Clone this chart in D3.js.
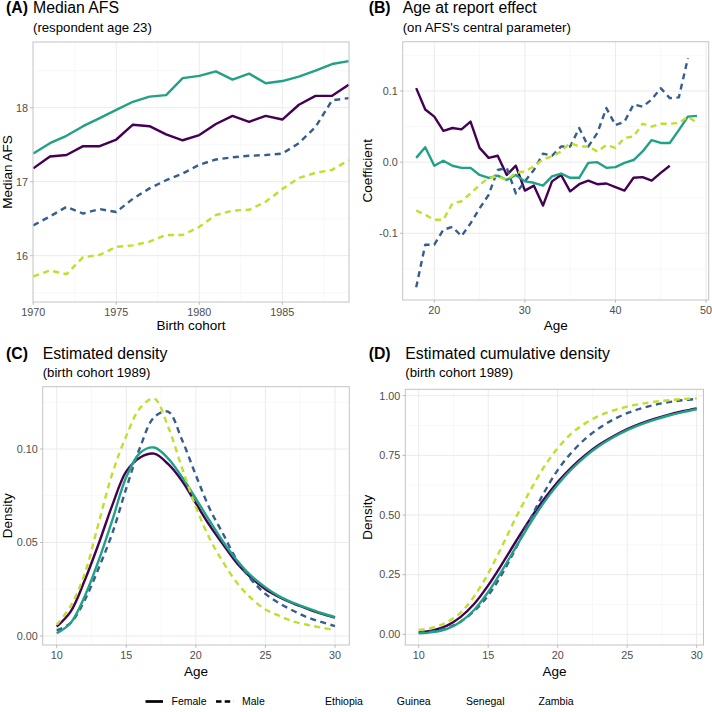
<!DOCTYPE html>
<html><head><meta charset="utf-8">
<script src="https://cdn.jsdelivr.net/npm/d3@7"></script>
<style>
body{margin:0;background:#fff}
svg{display:block;font-family:"Liberation Sans",Arial,Helvetica,sans-serif}
</style>
</head><body>
<svg id="chart" width="712" height="712"></svg>
<script>
// ---------------- DATA ----------------
const countries = ["Ethiopia", "Guinea", "Senegal", "Zambia"];
const countrySex = ["Female", "Male", "Female", "Male"];
const countryColors = ["#440154", "#365D8D", "#21A185", "#BFDF2A"];
const sexes = ["Female", "Male"];

// (A) Median AFS by birth cohort
const cohort = [1970,1971,1972,1973,1974,1975,1976,1977,1978,1979,1980,1981,1982,1983,1984,1985,1986,1987,1988,1989];
const medianEthiopia = [17.18,17.34,17.36,17.48,17.48,17.57,17.77,17.75,17.64,17.56,17.63,17.78,17.89,17.81,17.89,17.84,18.04,18.16,18.16,18.31];
const medianGuinea   = [16.41,16.53,16.66,16.57,16.63,16.59,16.77,16.91,17.02,17.11,17.23,17.30,17.33,17.35,17.36,17.38,17.52,17.74,18.10,18.13];
const medianSenegal  = [17.38,17.52,17.62,17.75,17.86,17.97,18.08,18.15,18.17,18.40,18.43,18.49,18.38,18.46,18.33,18.36,18.42,18.50,18.59,18.63];
const medianZambia   = [15.72,15.80,15.75,15.98,16.01,16.12,16.14,16.19,16.28,16.28,16.39,16.55,16.61,16.62,16.73,16.90,17.05,17.12,17.16,17.29];

// (B) Age at report effect
const reportAge = [18,19,20,21,22,23,24,25,26,27,28,29,30,31,32,33,34,35,36,37,38,39,40,41,42,43,44,45,46,47,48,49];
const effectEthiopia = [0.104,0.074,0.064,0.044,0.048,0.046,0.057,0.020,0.006,0.009,-0.018,-0.005,-0.040,-0.033,-0.061,-0.027,-0.018,-0.041,-0.031,-0.026,-0.031,-0.030,-0.035,-0.040,-0.022,-0.021,-0.026,-0.015,-0.005];
const effectGuinea   = [-0.176,-0.116,-0.116,-0.095,-0.091,-0.104,-0.086,-0.065,-0.046,-0.011,-0.008,-0.044,-0.027,-0.011,0.012,0.009,0.022,0.022,0.048,0.022,0.041,0.076,0.052,0.057,0.081,0.078,0.088,0.104,0.090,0.091,0.146];
const effectSenegal  = [0.006,0.021,-0.005,0.002,-0.005,-0.008,-0.008,-0.018,-0.022,-0.019,-0.025,-0.018,-0.027,-0.029,-0.033,-0.020,-0.016,-0.022,-0.022,-0.001,0.000,-0.008,-0.007,-0.001,0.003,0.015,0.031,0.027,0.027,0.045,0.064,0.065];
const effectZambia   = [-0.068,-0.074,-0.081,-0.081,-0.058,-0.055,-0.044,-0.032,-0.022,-0.020,-0.025,-0.015,-0.013,-0.006,0.004,0.008,0.015,0.027,0.022,0.022,0.015,0.024,0.020,0.034,0.036,0.054,0.050,0.054,0.054,0.055,0.064,0.055];

// (C) Estimated density, birth cohort 1989
const densAge = [10,11,12,13,14,15,16,17,18,19,20,21,22,23,24,25,26,27,28,29,30];
const densEthiopia = [0.005,0.013,0.0295,0.049,0.070,0.088,0.0955,0.0975,0.092,0.083,0.071,0.059,0.0485,0.0385,0.031,0.025,0.0208,0.0174,0.0146,0.012,0.0099];
const densGuinea   = [0.003,0.007,0.019,0.036,0.055,0.079,0.101,0.117,0.120,0.105,0.086,0.068,0.054,0.040,0.030,0.0225,0.0175,0.0135,0.010,0.0075,0.0053];
const densSenegal  = [0.0015,0.007,0.021,0.040,0.062,0.085,0.098,0.1008,0.095,0.085,0.0735,0.0615,0.050,0.040,0.032,0.026,0.0212,0.0177,0.0149,0.0123,0.0101];
const densZambia   = [0.006,0.016,0.033,0.060,0.087,0.107,0.122,0.127,0.112,0.090,0.069,0.052,0.039,0.028,0.020,0.0142,0.0108,0.0078,0.006,0.0045,0.0032];

// (D) Estimated cumulative density, birth cohort 1989
const cumEthiopia = [0.008,0.016,0.035,0.072,0.128,0.205,0.295,0.39,0.482,0.565,0.638,0.70,0.752,0.795,0.83,0.86,0.884,0.904,0.921,0.935,0.947];
const cumGuinea   = [0.008,0.013,0.026,0.053,0.098,0.163,0.253,0.362,0.48,0.592,0.688,0.762,0.82,0.865,0.90,0.927,0.947,0.962,0.973,0.981,0.986];
const cumSenegal  = [0.004,0.009,0.022,0.052,0.103,0.177,0.268,0.366,0.463,0.552,0.628,0.692,0.746,0.79,0.826,0.856,0.88,0.90,0.917,0.931,0.943];
const cumZambia   = [0.018,0.028,0.05,0.09,0.16,0.255,0.37,0.49,0.60,0.70,0.78,0.842,0.885,0.916,0.938,0.954,0.966,0.975,0.981,0.986,0.989];

// tick values / labels
const ticksAx = [1970,1975,1980,1985], ticksAxLab = ["1970","1975","1980","1985"];
const ticksAy = [16,17,18], ticksAyLab = ["16","17","18"];
const ticksBx = [20,30,40,50], ticksBxLab = ["20","30","40","50"];
const ticksBy = [-0.1,0,0.1], ticksByLab = ["-0.1","0.0","0.1"];
const ticksCx = [10,15,20,25,30], ticksCxLab = ["10","15","20","25","30"];
const ticksCy = [0,0.05,0.10], ticksCyLab = ["0.00","0.05","0.10"];
const ticksDy = [0,0.25,0.5,0.75,1], ticksDyLab = ["0.00","0.25","0.50","0.75","1.00"];

// ---------------- DRAWING ----------------
const svg = d3.select("#chart");
const DASH = "6,4.5";

function makeSeries(xs, ysList) {
  return ysList.map((ys, i) => ({
    color: countryColors[i],
    dashed: countrySex[i] === "Male",
    pts: ys.map((v, j) => [xs[j], v])
  }));
}

function panel(o) {
  const g = svg.append("g");
  const {x0, y0, x1, y1} = o.box;
  const x = o.x, y = o.y;
  g.append("rect").attr("x", x0).attr("y", y0).attr("width", x1 - x0).attr("height", y1 - y0).attr("fill", "#fff");
  // grid
  const xMinor = [], yMinor = [];
  for (let i = 0; i < o.xMajor.length - 1; i++) xMinor.push((o.xMajor[i] + o.xMajor[i+1]) / 2);
  for (let i = 0; i < o.yMajor.length - 1; i++) yMinor.push((o.yMajor[i] + o.yMajor[i+1]) / 2);
  const sx = o.xMajor[1] - o.xMajor[0], sy = o.yMajor[1] - o.yMajor[0];
  xMinor.push(o.xMajor[0] - sx / 2, o.xMajor[o.xMajor.length-1] + sx / 2);
  yMinor.push(o.yMajor[0] - sy / 2, o.yMajor[o.yMajor.length-1] + sy / 2);
  const inX = v => x(v) > x0 + 0.5 && x(v) < x1 - 0.5;
  const inY = v => y(v) > y0 + 0.5 && y(v) < y1 - 0.5;
  g.selectAll(".mnx").data(xMinor.filter(inX)).join("line")
    .attr("x1", d => x(d)).attr("x2", d => x(d)).attr("y1", y0).attr("y2", y1)
    .attr("stroke", "#f3f3f3").attr("stroke-width", 0.6);
  g.selectAll(".mny").data(yMinor.filter(inY)).join("line")
    .attr("y1", d => y(d)).attr("y2", d => y(d)).attr("x1", x0).attr("x2", x1)
    .attr("stroke", "#f3f3f3").attr("stroke-width", 0.6);
  g.selectAll(".mjx").data(o.xMajor.filter(inX)).join("line")
    .attr("x1", d => x(d)).attr("x2", d => x(d)).attr("y1", y0).attr("y2", y1)
    .attr("stroke", "#e9e9e9").attr("stroke-width", 0.9);
  g.selectAll(".mjy").data(o.yMajor.filter(inY)).join("line")
    .attr("y1", d => y(d)).attr("y2", d => y(d)).attr("x1", x0).attr("x2", x1)
    .attr("stroke", "#e9e9e9").attr("stroke-width", 0.9);

  // lines
  const line = d3.line().x(d => x(d[0])).y(d => y(d[1])).curve(o.curve || d3.curveLinear);
  o.series.forEach(s => {
    g.append("path").attr("d", line(s.pts)).attr("fill", "none")
      .attr("stroke", s.color).attr("stroke-width", 2.4)
      .attr("stroke-dasharray", s.dashed ? DASH : null)
      .attr("stroke-linejoin", "round");
  });

  // border
  g.append("rect").attr("x", x0).attr("y", y0).attr("width", x1 - x0).attr("height", y1 - y0)
    .attr("fill", "none").attr("stroke", "#c4c4c4").attr("stroke-width", 1);

  // axes
  o.xMajor.forEach((v, i) => {
    g.append("line").attr("x1", x(v)).attr("x2", x(v)).attr("y1", y1).attr("y2", y1 + 2.8)
      .attr("stroke", "#b3b3b3").attr("stroke-width", 0.9);
    g.append("text").attr("x", x(v)).attr("y", y1 + 14.4).attr("text-anchor", "middle")
      .attr("font-size", 10.8).attr("fill", "#4d4d4d").text(o.xLab[i]);
  });
  o.yMajor.forEach((v, i) => {
    g.append("line").attr("x1", x0 - 2.8).attr("x2", x0).attr("y1", y(v)).attr("y2", y(v))
      .attr("stroke", "#b3b3b3").attr("stroke-width", 0.9);
    g.append("text").attr("x", x0 - 5).attr("y", y(v) + 3.8).attr("text-anchor", "end")
      .attr("font-size", 10.8).attr("fill", "#4d4d4d").text(o.yLab[i]);
  });
  g.append("text").attr("x", (x0 + x1) / 2).attr("y", o.xTitleY).attr("text-anchor", "middle")
    .attr("font-size", 13.5).attr("fill", "#000").text(o.xTitle);
  g.append("text").attr("transform", `translate(${o.yTitleX},${(y0 + y1) / 2}) rotate(-90)`)
    .attr("text-anchor", "middle").attr("font-size", 13.5).attr("fill", "#000").text(o.yTitle);
  // titles
  g.append("text").attr("x", o.tagX).attr("y", o.titleY).attr("font-size", 15.8).attr("font-weight", "bold").text(o.tag);
  g.append("text").attr("x", x0).attr("y", o.titleY).attr("font-size", 15.8).text(o.title);
  g.append("text").attr("x", x0).attr("y", o.titleY + 18.5).attr("font-size", 13.2).text(o.subtitle);
}

// Panel A
panel({
  box: {x0: 33, y0: 42, x1: 349, y1: 302},
  x: d3.scaleLinear().domain([1970, 1985]).range([33.3, 282.3]),
  y: d3.scaleLinear().domain([16, 18]).range([255.7, 107.7]),
  xMajor: ticksAx, xLab: ticksAxLab, yMajor: ticksAy, yLab: ticksAyLab,
  series: makeSeries(cohort, [medianEthiopia, medianGuinea, medianSenegal, medianZambia]),
  xTitle: "Birth cohort", xTitleY: 330, yTitle: "Median AFS", yTitleX: 12,
  tag: "(A)", tagX: 6, title: "Median AFS", subtitle: "(respondent age 23)", titleY: 13
});

// Panel B
panel({
  box: {x0: 402.7, y0: 41.7, x1: 708.7, y1: 300},
  x: d3.scaleLinear().domain([20, 50]).range([434.3, 706]),
  y: d3.scaleLinear().domain([-0.1, 0.1]).range([233.3, 91]),
  xMajor: ticksBx, xLab: ticksBxLab, yMajor: ticksBy, yLab: ticksByLab,
  series: makeSeries(reportAge, [effectEthiopia, effectGuinea, effectSenegal, effectZambia]),
  xTitle: "Age", xTitleY: 329.5, yTitle: "Coefficient", yTitleX: 372,
  tag: "(B)", tagX: 368.7, title: "Age at report effect", subtitle: "(on AFS's central parameter)", titleY: 13
});

// Panel C
panel({
  box: {x0: 42.7, y0: 386.7, x1: 349.3, y1: 645},
  x: d3.scaleLinear().domain([10, 30]).range([56.7, 335]),
  y: d3.scaleLinear().domain([0, 0.1]).range([636, 449]),
  xMajor: ticksCx, xLab: ticksCxLab, yMajor: ticksCy, yLab: ticksCyLab,
  series: makeSeries(densAge, [densEthiopia, densGuinea, densSenegal, densZambia]),
  curve: d3.curveCatmullRom.alpha(0.5),
  xTitle: "Age", xTitleY: 675.5, yTitle: "Density", yTitleX: 11.5,
  tag: "(C)", tagX: 6, title: "Estimated density", subtitle: "(birth cohort 1989)", titleY: 358.5
});

// Panel D
panel({
  box: {x0: 405.3, y0: 389.3, x1: 703.5, y1: 645},
  x: d3.scaleLinear().domain([10, 30]).range([418.7, 696.7]),
  y: d3.scaleLinear().domain([0, 1]).range([634.3, 395.7]),
  xMajor: ticksCx, xLab: ticksCxLab, yMajor: ticksDy, yLab: ticksDyLab,
  series: makeSeries(densAge, [cumEthiopia, cumGuinea, cumSenegal, cumZambia]),
  curve: d3.curveCatmullRom.alpha(0.5),
  xTitle: "Age", xTitleY: 675.5, yTitle: "Density", yTitleX: 372,
  tag: "(D)", tagX: 368.7, title: "Estimated cumulative density", subtitle: "(birth cohort 1989)", titleY: 358.5
});

// Legend
const lg = svg.append("g");
const legY = 701.5;
const sexKeyX = [145.5, 216];
sexes.forEach((s, i) => {
  lg.append("line").attr("x1", sexKeyX[i]).attr("x2", sexKeyX[i] + 17.5).attr("y1", legY).attr("y2", legY)
    .attr("stroke", "#000").attr("stroke-width", 2.7)
    .attr("stroke-dasharray", s === "Male" ? "5.5,3.2" : null);
  lg.append("text").attr("x", sexKeyX[i] + 26).attr("y", legY + 3.8).attr("font-size", 10.5).text(s);
});
const countryX = [325, 396.8, 466, 538.6];
countries.forEach((c, i) => {
  lg.append("text").attr("x", countryX[i]).attr("y", legY + 3.8).attr("font-size", 10.5).text(c);
});
</script>
</body></html>
